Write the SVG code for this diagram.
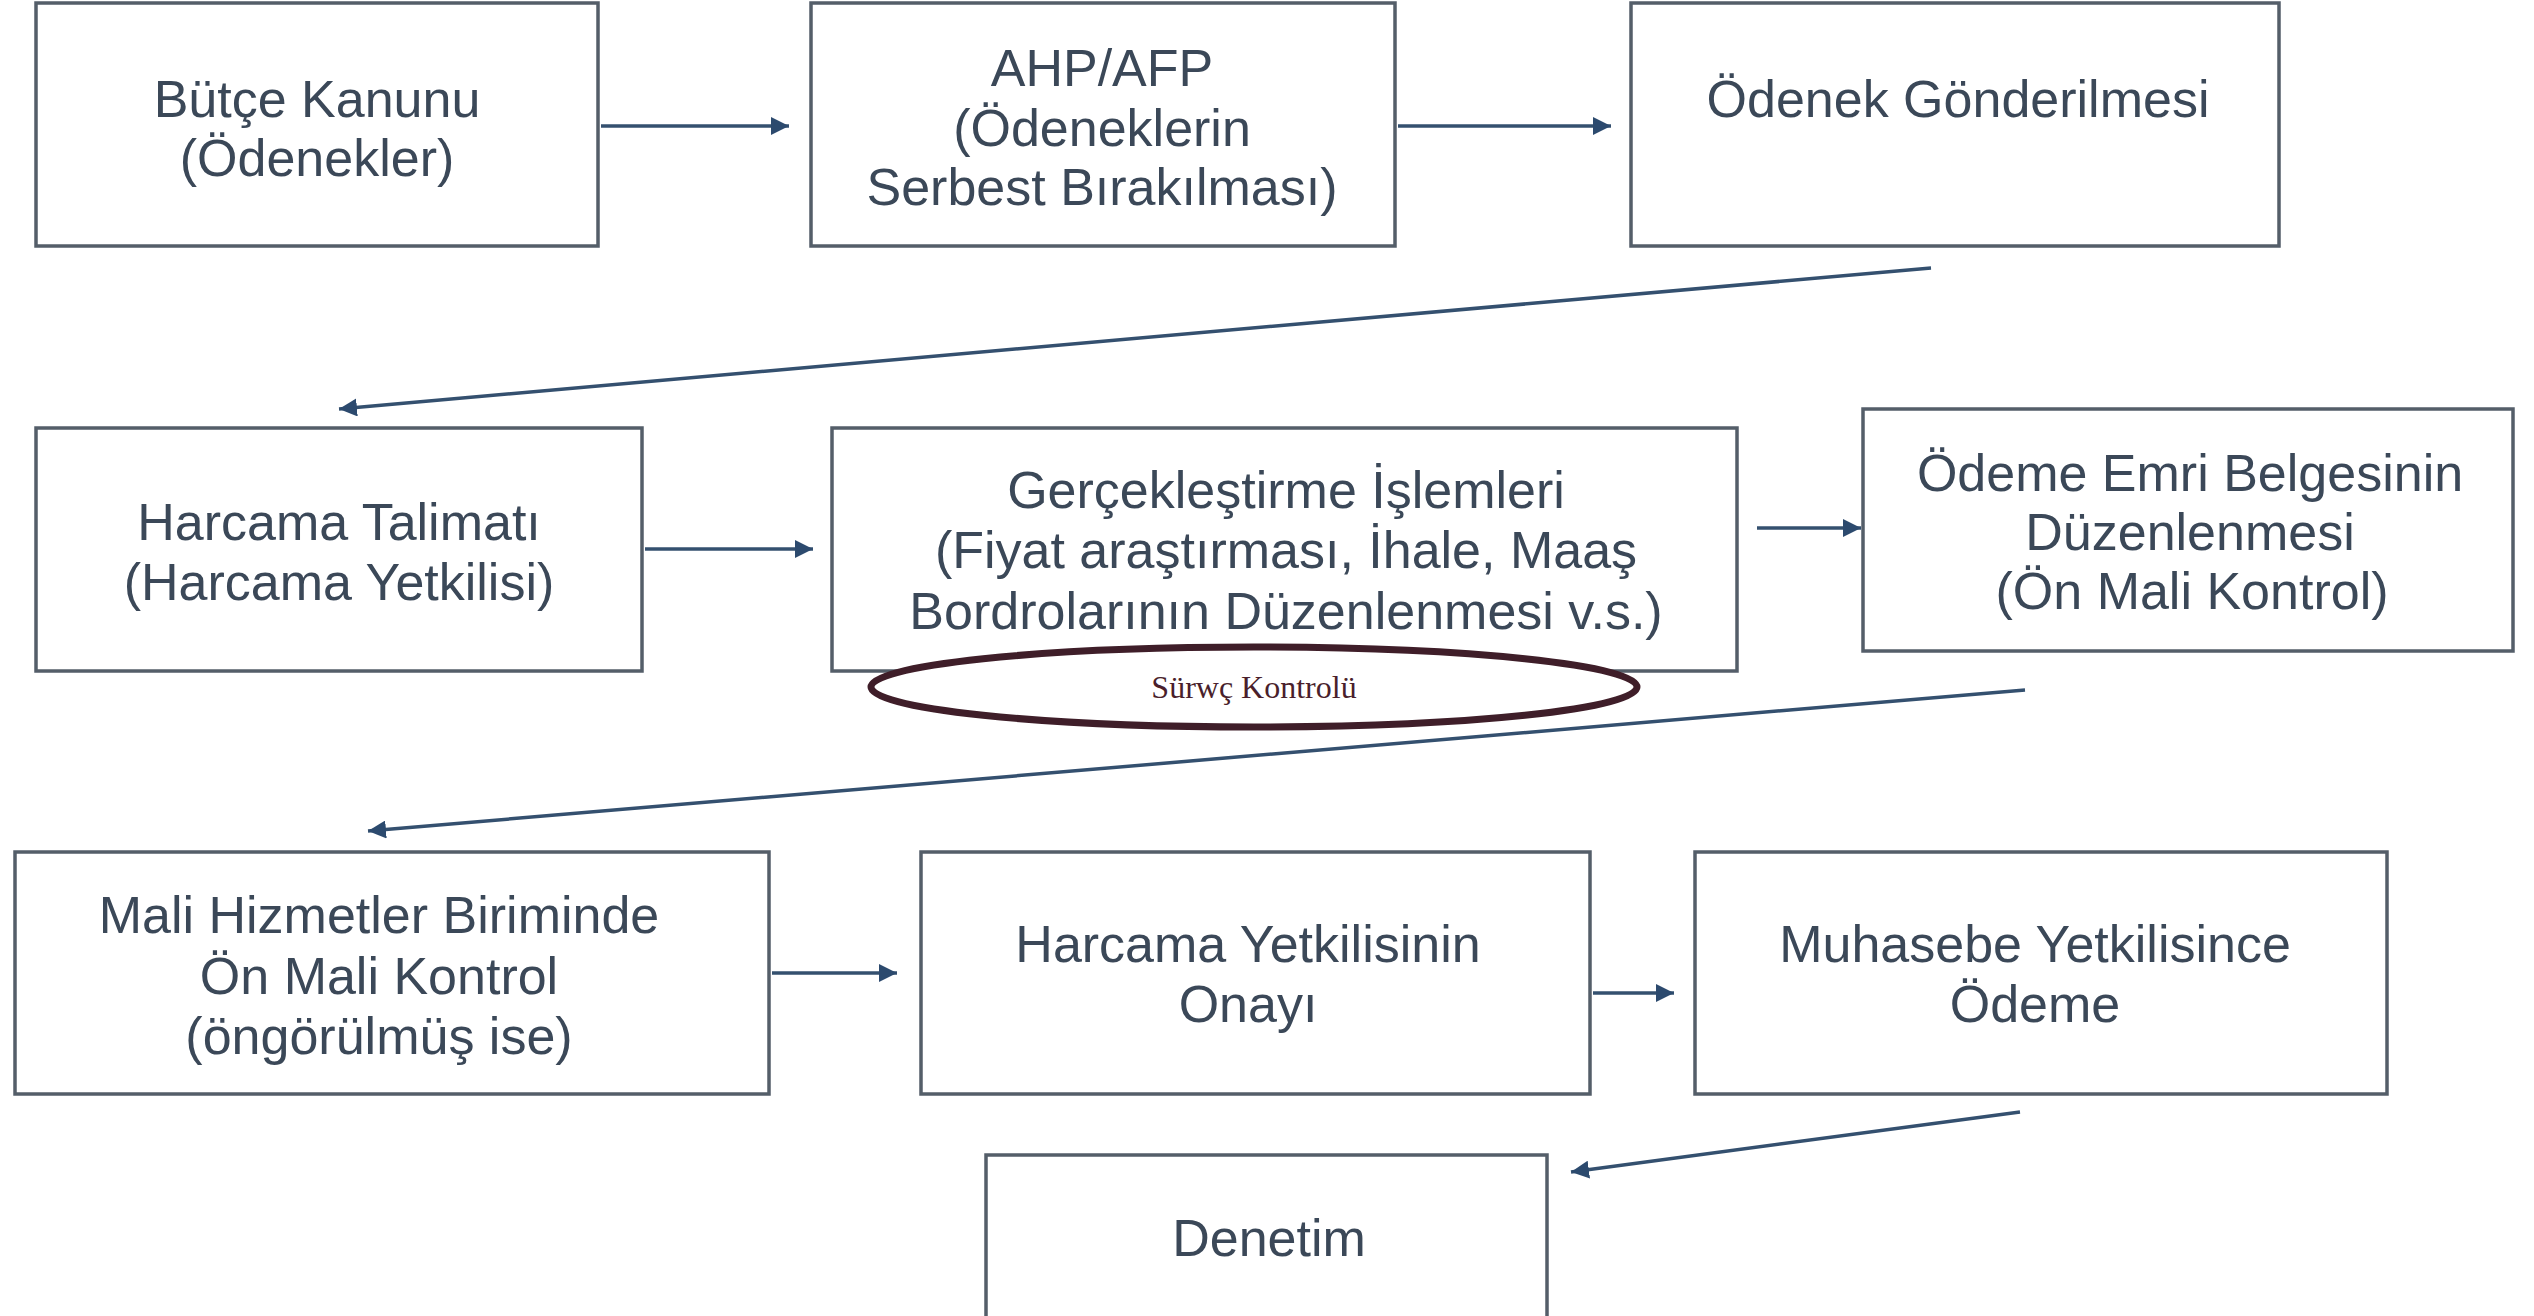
<svg xmlns="http://www.w3.org/2000/svg" width="2534" height="1316" viewBox="0 0 2534 1316">
<style>
.box{fill:#ffffff;stroke:#545e69;stroke-width:3.5}
.t{font-family:"Liberation Sans",Arial,sans-serif;font-size:52px;fill:#3b4858;text-anchor:middle}
.c{stroke:#34506f;stroke-width:3.5;fill:none;marker-end:url(#ah)}
.el{fill:#ffffff;stroke:#3f1e29;stroke-width:7}
.et{font-family:"Liberation Serif","Times New Roman",serif;font-size:32px;fill:#4a1f2c;text-anchor:middle}
</style>
<defs>
<marker id="ah" markerUnits="userSpaceOnUse" markerWidth="20" markerHeight="18" refX="18" refY="9" orient="auto">
<path d="M0,0 L18,9 L0,18 z" fill="#2c4a6e"/>
</marker>
</defs>
<rect width="2534" height="1316" fill="#ffffff"/>
<g id="connectors">
<line class="c" x1="601" y1="126" x2="789" y2="126"/>
<line class="c" x1="1398" y1="126" x2="1611" y2="126"/>
<line class="c" x1="1931" y1="268" x2="339" y2="409"/>
<line class="c" x1="645" y1="549" x2="813" y2="549"/>
<line class="c" x1="1757" y1="528" x2="1861" y2="528"/>
<line class="c" x1="2025" y1="690" x2="368" y2="831"/>
<line class="c" x1="772" y1="973" x2="897" y2="973"/>
<line class="c" x1="1593" y1="993" x2="1674" y2="993"/>
<line class="c" x1="2020" y1="1112" x2="1571" y2="1172"/>
</g>
<g id="n1"><rect class="box" x="36" y="3" width="562" height="243"/><text class="t" x="317" y="117">Bütçe Kanunu</text><text class="t" x="317" y="176">(Ödenekler)</text></g>
<g id="n2"><rect class="box" x="811" y="3" width="584" height="243"/><text class="t" x="1102" y="86">AHP/AFP</text><text class="t" x="1102" y="146">(Ödeneklerin</text><text class="t" x="1102" y="205">Serbest Bırakılması)</text></g>
<g id="n3"><rect class="box" x="1631" y="3" width="648" height="243"/><text class="t" x="1958" y="117">Ödenek Gönderilmesi</text></g>
<g id="n4"><rect class="box" x="36" y="428" width="606" height="243"/><text class="t" x="339" y="540">Harcama Talimatı</text><text class="t" x="339" y="600">(Harcama Yetkilisi)</text></g>
<g id="n5"><rect class="box" x="832" y="428" width="905" height="243"/><text class="t" x="1286" y="508">Gerçekleştirme İşlemleri</text><text class="t" x="1286" y="568">(Fiyat araştırması, İhale, Maaş</text><text class="t" x="1286" y="629">Bordrolarının Düzenlenmesi v.s.)</text></g>
<g id="n6"><rect class="box" x="1863" y="409" width="650" height="242"/><text class="t" x="2190" y="491">Ödeme Emri Belgesinin</text><text class="t" x="2190" y="550">Düzenlenmesi</text><text class="t" x="2192" y="609">(Ön Mali Kontrol)</text></g>
<g id="n_surec"><ellipse class="el" cx="1254" cy="687" rx="383" ry="40"/><text class="et" x="1254" y="698">Sürwç Kontrolü</text></g>
<g id="n7"><rect class="box" x="15" y="852" width="754" height="242"/><text class="t" x="379" y="933">Mali Hizmetler Biriminde</text><text class="t" x="379" y="994">Ön Mali Kontrol</text><text class="t" x="379" y="1054">(öngörülmüş ise)</text></g>
<g id="n8"><rect class="box" x="921" y="852" width="669" height="242"/><text class="t" x="1248" y="962">Harcama Yetkilisinin</text><text class="t" x="1248" y="1022">Onayı</text></g>
<g id="n9"><rect class="box" x="1695" y="852" width="692" height="242"/><text class="t" x="2035" y="962">Muhasebe Yetkilisince</text><text class="t" x="2035" y="1022">Ödeme</text></g>
<g id="n10"><rect class="box" x="986" y="1155" width="561" height="170"/><text class="t" x="1269" y="1256">Denetim</text></g>
</svg>
